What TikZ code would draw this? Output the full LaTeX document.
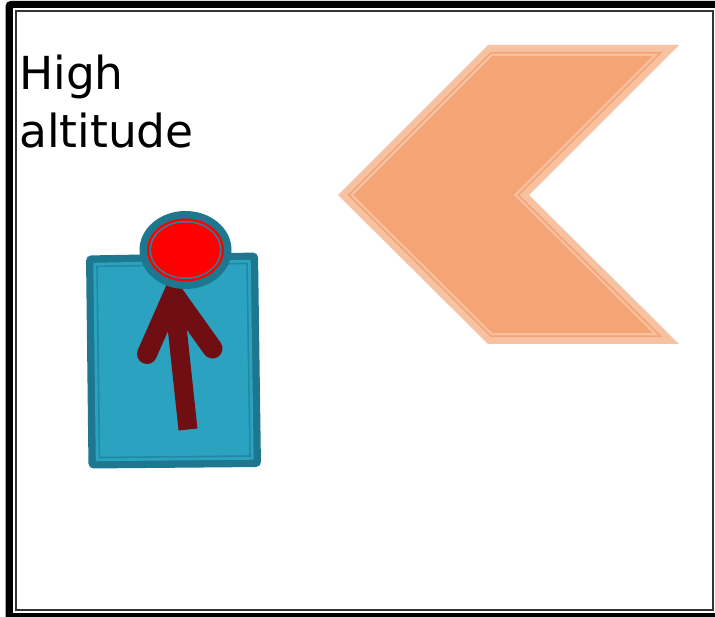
\documentclass[tikz,border=0pt]{standalone}
\usepackage{fontspec}
\usepackage{tikz}
\usetikzlibrary{positioning, shapes.geometric}
\newfontfamily\labelfont{DejaVu Sans}
\definecolor{chevronfill}{HTML}{F4A475}
\definecolor{chevronband}{HTML}{F7C2A2}
\definecolor{boardfill}{HTML}{2CA2C1}
\definecolor{boardedge}{HTML}{1D788F}
\definecolor{boardline}{HTML}{2088A3}
\definecolor{arrowred}{HTML}{6F0F14}
\definecolor{framegray}{HTML}{333333}
\newcommand{\chevronpath}[1]{(338+1.414*#1,195) -- (488+0.414*#1,45+#1) -- (679-2.414*#1,45+#1)
  -- (529-1.414*#1,195) -- (679-2.414*#1,344-#1) -- (488+0.414*#1,344-#1) -- cycle}
\newcommand{\boardpath}[1]{(86+#1,255.5+#1) -- (258-#1,252.5+#1) -- (261-#1,467-#1) -- (88.5+#1,468.5-#1) -- cycle}

\begin{document}
\begin{tikzpicture}[x=1pt, y=-1pt]
\tikzstyle{lamp}=[ellipse, inner sep=0pt, outer sep=0pt]
\tikzstyle{pointer}=[draw=arrowred, line width=19pt]

\useasboundingbox (0,0) rectangle (715,617);
\clip (0,0) rectangle (715,617);

% frame
\fill [black, rounded corners=5pt] (5.5,1) rectangle (740,640);
\fill [white] (13,8.3) rectangle (740,612.7);
\draw [framegray, line width=2.2pt] (15.7,11) rectangle (713.2,609.8);

% chevron
\fill [chevronband] \chevronpath{0};
\fill [chevronfill] \chevronpath{6.8};
\fill [chevronband] \chevronpath{8.6};
\fill [chevronfill] \chevronpath{10.8};

% board
\fill [boardedge, rounded corners=5pt] \boardpath{0};
\fill [boardfill] \boardpath{7.3};
\fill [boardline] \boardpath{10.2};
\fill [boardfill] \boardpath{11.8};

% pointer
\coordinate (tail) at (188,429.5);
\coordinate (apex) at (173.5,293.8);
\coordinate (barbleft) at (147,354);
\coordinate (barbright) at (212.5,348.5);
\draw [pointer] (tail) -- (apex);
\draw [pointer, line width=20pt, line cap=round] (barbleft) -- (apex) -- (barbright);

% lamp
\node (lamp) [lamp, fill=boardedge, minimum width=92pt, minimum height=78pt] at (185.5,250) {};
\node (lampring) [lamp, fill=red, minimum width=77pt, minimum height=63pt] at (lamp.center) {};
\node (lampline) [lamp, fill=boardline, minimum width=72pt, minimum height=58pt] at (lamp.center) {};
\node (lampface) [lamp, fill=red, minimum width=69pt, minimum height=55pt] at (lamp.center) {};

\node (title) [anchor=north west, inner sep=0pt, align=left,
  font=\labelfont\fontsize{45.5}{57.5}\selectfont] at (19,55) {High\\altitude};
\end{tikzpicture}
\end{document}
